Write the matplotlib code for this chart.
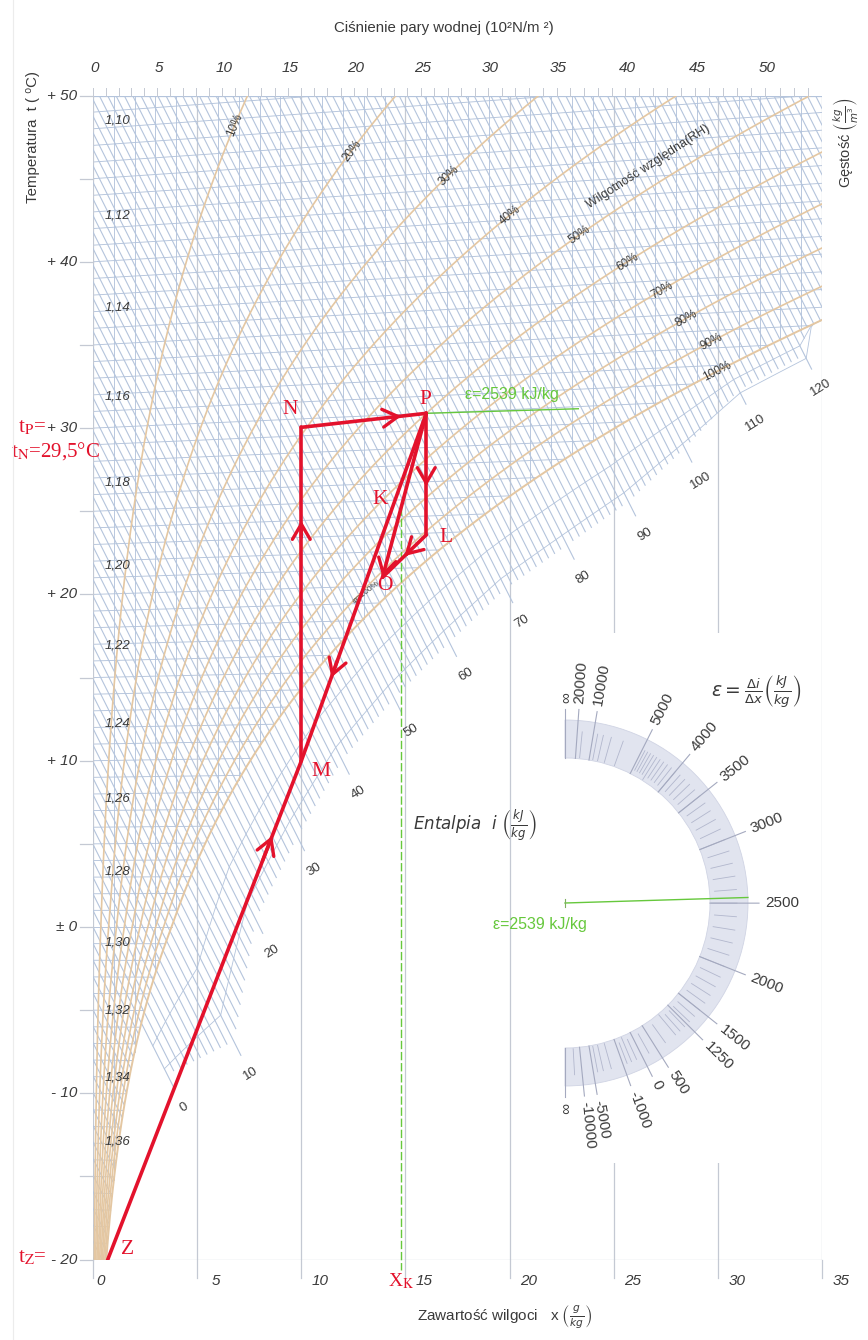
import numpy as np
import matplotlib
matplotlib.use("Agg")
import matplotlib.pyplot as plt
from matplotlib.patches import Wedge, Rectangle

plt.rcParams["font.family"] = ["Liberation Sans", "DejaVu Sans"]

# ---------------------------------------------------------------- values
P_TOTAL = 101.325                                   # kPa, total pressure
moisture_ticks = [0, 5, 10, 15, 20, 25, 30, 35]     # g/kg
temp_ticks = [50, 40, 30, 20, 10, 0, -10, -20]      # deg C
temp_tick_labels = ["+ 50", "+ 40", "+ 30", "+ 20", "+ 10", "± 0", "- 10", "- 20"]
pressure_ticks = [0, 5, 10, 15, 20, 25, 30, 35, 40, 45, 50]   # 10^2 N/m^2
rh_levels = [10, 20, 30, 40, 50, 60, 70, 80, 90, 100]         # %
rh_label_Y = [48.2, 46.7, 45.2, 42.8, 41.6, 40.0, 38.3, 36.6, 35.2, 33.4]
density_levels = [1.10, 1.12, 1.14, 1.16, 1.18, 1.20, 1.22,
                  1.24, 1.26, 1.28, 1.30, 1.32, 1.34, 1.36]   # kg/m^3
enthalpy_major = [0, 10, 20, 30, 40, 50, 60, 70, 80, 90, 100, 110, 120]  # kJ/kg
eps_major = [np.inf, 20000, 10000, 5000, 4000, 3500, 3000, 2500, 2000,
             1500, 1250, 500, 0, -1000, -5000, -10000, -np.inf]
eps_major_labels = ["∞", "20000", "10000", "5000", "4000", "3500", "3000", "2500",
                    "2000", "1500", "1250", "500", "0", "-1000", "-5000", "-10000", "∞"]
eps_minor = (list(range(1000, 5000, 100)) + [6000, 7000, 8000, 9000, 15000]
             + [250, 750, -250, -500, -750, -2000, -3000, -4000, -20000])

# air states of the process (moisture g/kg, temperature deg C)
state_names = ["Z", "M", "N", "P", "L", "O"]
state_x = [0.7, 10.0, 10.0, 16.0, 16.0, 13.9]
state_t = [-20.0, 9.8, 29.5, 30.0, 22.9, 20.5]
x_K = 14.8
eps_process = 2539

# layout of the enthalpy scale below the saturation curve (x where each major line ends)
ENTH_END_X = [3.9, 7.1, 8.15, 10.15, 12.3, 14.8, 17.45, 20.15, 23.1, 26.05, 28.75, 31.35, 34.5]

# ---------------------------------------------------------------- physics
def p_sat(t):
    t = np.asarray(t, float)
    water = 0.61094 * np.exp(17.625 * t / (t + 243.04))
    ice = 0.61115 * np.exp(22.452 * t / (272.55 + t))
    return np.where(t >= 0, water, ice)


def x_of(t, phi=1.0):
    pv = phi * p_sat(t)
    return 622.0 * pv / (P_TOTAL - pv)


def skew_y(t, x):
    """Ordinate of the Mollier chart (the 0 deg C isotherm is horizontal)."""
    return np.asarray(t) * (1.0 + 0.00186 * np.asarray(x) / 1.005)


def enthalpy(Y, x):
    return 1.005 * Y + 2.501 * x


def density_t(rho, x):
    """temperature at which moist air of moisture x has density rho"""
    x = np.asarray(x, float)
    T = P_TOTAL * 1000 * (1 + x / 1000) / (287.05 * rho * (1 + 1.608 * x / 1000))
    return T - 273.15


# ---------------------------------------------------------------- figure
W, H = 868, 1340
fig = plt.figure(figsize=(W / 100, H / 100), dpi=100)
X0, X1 = 93.0, 822.0
YT, YB = 95.5, 1259.6
ax = fig.add_axes([X0 / W, 1 - YB / H, (X1 - X0) / W, (YB - YT) / H])
ax.set_xlim(0, 35)
ax.set_ylim(-20, 50)
ax.axis("off")

SX = (X1 - X0) / 35.0
SY = (YB - YT) / 70.0
Y0PX = YT + 50 * SY


def px(u, v):
    """pixel position -> chart coordinates"""
    return (u - X0) / SX, (Y0PX - v) / SY


GRID = "#b4c4dc"
GRID5 = "#c4c9d3"
TAN = "#e4c7a2"
RED = "#e3122c"
GREEN = "#66c83c"
TXT = "#3a3a3a"

t_s = np.linspace(-20, 50, 1401)
x_s = x_of(t_s)
Y_s = skew_y(t_s, x_s)
i_s = enthalpy(Y_s, x_s)


def sat_x_for_i(i):
    return np.interp(i, i_s, x_s)


# isotherms, every 1 deg C
for t in range(-20, 51):
    xe = min(float(x_of(t)), 35.0)
    xx = np.array([0.0, xe])
    ax.plot(xx, skew_y(t, xx), color=GRID, lw=0.65, zorder=1)

# constant moisture lines
for xv in range(1, 35):
    if xv % 5 == 0:
        continue
    ax.plot([xv, xv], [np.interp(xv, x_s, Y_s), 50], color=GRID, lw=0.65, zorder=1)
for xv in moisture_ticks:
    ax.plot([xv, xv], [-20, 50], color=GRID5, lw=0.9, zorder=1)
    ax.plot([xv, xv], [-21.1, -20], color=GRID5, lw=0.9, zorder=1, clip_on=False)
ax.plot([0, 35], [-20, -20], color=GRID5, lw=0.9, zorder=1)
ax.plot([0, 35], [50, 50], color=GRID, lw=0.9, zorder=1)

# enthalpy lines, every 1 kJ/kg
for i in range(-20, 138):
    xsat = float(sat_x_for_i(i))
    if i < 0:
        xe = xsat
    else:
        xe = float(np.interp(i, enthalpy_major, ENTH_END_X))
        if i % 10:
            xe -= 0.35
        xe = max(xe, xsat)
    xe = min(xe, 35.0)
    xb = max(0.0, (i - 1.005 * 50) / 2.501)
    if xe <= xb:
        continue
    ax.plot([xb, xe], [(i - 2.501 * xb) / 1.005, (i - 2.501 * xe) / 1.005],
            color=GRID, lw=0.8, zorder=1)

# curves across the fog region
ii = np.arange(0, 125.5, 0.5)
xsat_ii = sat_x_for_i(ii)
xend_ii = np.interp(ii, enthalpy_major, ENTH_END_X)
for f in (0.35, 0.7):
    xf = xsat_ii + f * np.maximum(xend_ii - xsat_ii, 0)
    ax.plot(xf, (ii - 2.501 * xf) / 1.005, color=GRID, lw=0.6, zorder=1)

# enthalpy scale labels
for i, xe in zip(enthalpy_major, ENTH_END_X):
    xl = xe + 0.45
    ax.text(xl, (i - 2.501 * xl) / 1.005, str(i), fontsize=9.5, color=TXT,
            rotation=32, ha="center", va="center", zorder=6, clip_on=False)

# density scale labels along the left edge
for rho in density_levels:
    xl = 1.2
    ax.text(xl, float(skew_y(density_t(rho, xl), xl)) + 0.9, f"{rho:.2f}".replace(".", ","),
            fontsize=9.5, style="italic", color=TXT, ha="center", va="center", zorder=6)

# relative humidity curves
for phi, yl in zip(rh_levels, rh_label_Y):
    xr = x_of(t_s, phi / 100.0)
    Yr = skew_y(t_s, xr)
    ax.plot(xr, Yr, color=TAN, lw=1.2 if phi < 100 else 1.4, zorder=2)
    tl = np.interp(yl, Yr, t_s)
    xl = float(x_of(tl, phi / 100.0))
    a = ax.transData.transform((xl, yl))
    b = ax.transData.transform((float(x_of(tl + 0.3, phi / 100.0)),
                                float(skew_y(tl + 0.3, x_of(tl + 0.3, phi / 100.0)))))
    ang = np.degrees(np.arctan2(b[1] - a[1], b[0] - a[0]))
    ax.text(xl, yl, f"{phi}%", fontsize=8.5, color=TXT, rotation=ang,
            ha="center", va="center", rotation_mode="anchor", zorder=6)

xw, yw = px(648, 167)
ax.text(xw, yw, "Wilgotność względna(RH)", fontsize=9, color=TXT, rotation=33,
        ha="center", va="center", rotation_mode="anchor", zorder=6)
xf_, yf_ = px(366, 592)
ax.text(xf_, yf_, "φ=100%", fontsize=6, color=TXT, rotation=38,
        ha="center", va="center", rotation_mode="anchor", zorder=6)

# blank field for the direction scale
rx0, ry1 = px(540, 633)
rx1, ry0 = px(800, 1163)
ax.add_patch(Rectangle((rx0, ry0), rx1 - rx0, ry1 - ry0, facecolor="white",
                       edgecolor="none", zorder=3))

# ---------------------------------------------------------------- axes labels
for xv in moisture_ticks:
    dx = 8 if xv == 0 else 19
    ax.text(xv + dx / SX, px(0, 1281)[1], str(xv), fontsize=11, style="italic",
            color=TXT, ha="center", va="center", clip_on=False)
for t, lab in zip(temp_ticks, temp_tick_labels):
    ax.text(px(77, 0)[0], t, lab, fontsize=11, style="italic", color=TXT,
            ha="right", va="center", clip_on=False)
for t in range(-20, 51, 5):
    ax.plot([-0.62, 0], [t, t], color=GRID5, lw=0.9, clip_on=False)
for p in range(0, 54):
    xp = 622.0 * p / (1013.25 - p)
    ax.plot([xp, xp], [50, 50.45], color=GRID5, lw=0.7, clip_on=False)
for p in pressure_ticks:
    xp = 622.0 * p / (1013.25 - p)
    ax.text(xp + 2 / SX, px(0, 68)[1], str(p), fontsize=11, style="italic", color=TXT,
            ha="center", va="center", clip_on=False)

ax.text(*px(444, 28), "Ciśnienie pary wodnej (10²N/m ²)", fontsize=10.8,
        color=TXT, ha="center", va="center")
ax.text(*px(505, 1317), r"Zawartość wilgoci   x $\left(\frac{g}{kg}\right)$",
        fontsize=11, color=TXT, ha="center", va="center")
ax.text(*px(33, 137), "Temperatura  t ( ⁰C)", fontsize=10.8, color=TXT,
        rotation=90, ha="center", va="center")
ax.text(*px(846, 143), r"Gęstość $\left(\frac{kg}{m^3}\right)$", fontsize=10.5,
        color=TXT, rotation=90, ha="center", va="center")
ax.text(*px(475, 825), r"$\mathit{Entalpia}\ \ \mathit{i}\ \left(\frac{kJ}{kg}\right)$",
        fontsize=12, color=TXT, ha="center", va="center", zorder=6)

# ---------------------------------------------------------------- process
S = {n: np.array([x, float(skew_y(t, x))]) for n, x, t in zip(state_names, state_x, state_t)}
fk = (S["P"][0] - x_K) / (S["P"][0] - S["O"][0])
S["K"] = S["P"] + fk * (S["O"] - S["P"])

for a_, b_ in [("Z", "M"), ("P", "M"), ("M", "N"), ("N", "P"),
               ("P", "L"), ("L", "O"), ("P", "O")]:
    ax.plot([S[a_][0], S[b_][0]], [S[a_][1], S[b_][1]], color=RED, lw=2.6,
            solid_capstyle="round", zorder=8)


def arrow_on(a_, b_, frac):
    p0, p1 = S[a_], S[b_]
    tip = p0 + frac * (p1 - p0)
    tail = p0 + (frac - 0.05) * (p1 - p0)
    ax.annotate("", xy=tip, xytext=tail, zorder=9,
                arrowprops=dict(arrowstyle="->,head_length=0.55,head_width=0.32",
                                color=RED, lw=2.4, mutation_scale=20,
                                shrinkA=0, shrinkB=0))


for a_, b_, f in [("Z", "M", 0.85), ("P", "M", 0.76), ("M", "N", 0.72),
                  ("N", "P", 0.8), ("P", "L", 0.6), ("L", "O", 0.5), ("P", "O", 1.0)]:
    arrow_on(a_, b_, f)

serif = ["Liberation Serif", "DejaVu Serif"]
for name, (u, v) in {"N": (290, 410), "P": (425, 400), "K": (380, 500), "L": (446, 537),
                     "O": (385, 585), "M": (321, 772), "Z": (128, 1250)}.items():
    ax.text(*px(u, v), name, fontsize=15.5, color=RED, family=serif,
            ha="center", va="center", zorder=9)

ax.text(*px(46, 428), r"t$_{\mathrm{P}}$=", fontsize=15, color=RED, family=serif,
        math_fontfamily="stix", ha="right", va="center", clip_on=False)
ax.text(*px(11, 451), r"t$_{\mathrm{N}}$=29,5°C", fontsize=15, color=RED, family=serif,
        math_fontfamily="stix", ha="left", va="center", clip_on=False)
ax.text(*px(47, 1258), r"t$_{\mathrm{Z}}$=", fontsize=15, color=RED, family=serif,
        math_fontfamily="stix", ha="right", va="center", clip_on=False)
ax.text(x_K, px(0, 1281)[1], r"X$_{\mathrm{K}}$", fontsize=14, color=RED, family=serif,
        math_fontfamily="stix", ha="center", va="center", clip_on=False)

# direction of the process eps = di/dx through P and the moisture content of K
dY = (eps_process / 1000.0 - 2.501) / 1.005
ax.plot([S["P"][0], S["P"][0] + 7.3], [S["P"][1], S["P"][1] + 7.3 * dY],
        color=GREEN, lw=1.0, zorder=7)
ax.text(*px(465, 394), f"ε={eps_process} kJ/kg", fontsize=11.5, color=GREEN,
        ha="left", va="center", zorder=7)
ax.plot([x_K, x_K], [S["K"][1], -20.6], color=GREEN, lw=1.0, ls=(0, (6, 2)),
        zorder=7, clip_on=False)

# ---------------------------------------------------------------- direction scale
ov = fig.add_axes([0, 0, 1, 1], zorder=5)
ov.set_xlim(0, W)
ov.set_ylim(H, 0)
ov.axis("off")

CX, CY = 565.0, 903.0
R_IN, R_OUT = 145.0, 183.0


def eps_angle(eps):
    if np.isinf(eps):
        return 90.0 * np.sign(eps)
    slope = (eps / 1000.0 - 2.501) / 1.005
    p0 = ax.transData.transform((0.0, 0.0))
    p1 = ax.transData.transform((1.0, slope))
    return float(np.degrees(np.arctan2(p1[1] - p0[1], p1[0] - p0[0])))


def polar(r, ang):
    a = np.radians(ang)
    return CX + r * np.cos(a), CY - r * np.sin(a)


ov.plot([13, 13], [0, H], color="#ececec", lw=0.8)
ov.add_patch(Wedge((CX, CY), R_OUT, -90, 90, width=R_OUT - R_IN,
                   facecolor="#e1e4ef", edgecolor="#d0d4e4", lw=0.6))
for e in eps_minor:
    ang = eps_angle(e)
    r0 = 150 if e % 500 else 146
    (u0, v0), (u1, v1) = polar(r0, ang), polar(172, ang)
    ov.plot([u0, u1], [v0, v1], color="#b2b7cd", lw=0.6)
for e, lab in zip(eps_major, eps_major_labels):
    ang = eps_angle(e)
    (u0, v0), (u1, v1) = polar(R_IN, ang), polar(194, ang)
    ov.plot([u0, u1], [v0, v1], color="#a4a9bf", lw=0.8)
    ul, vl = polar(200, ang)
    ov.text(ul, vl, lab, fontsize=11, color=TXT, rotation=ang, ha="left",
            va="center", rotation_mode="anchor")

ang = eps_angle(eps_process)
u1, v1 = polar(R_OUT, ang)
ov.plot([CX, u1], [CY, v1], color=GREEN, lw=1.0)
ov.plot([CX, CX], [CY - 4, CY + 4], color="#7fb060", lw=0.8)
ov.text(540, 925, f"ε={eps_process} kJ/kg", fontsize=11.5, color=GREEN,
        ha="center", va="center")
ov.text(756, 692, r"$\varepsilon = \frac{\Delta i}{\Delta x}\left(\frac{kJ}{kg}\right)$",
        fontsize=13.5, color=TXT, ha="center", va="center")

fig.savefig("out.png", dpi=100, facecolor="white")
